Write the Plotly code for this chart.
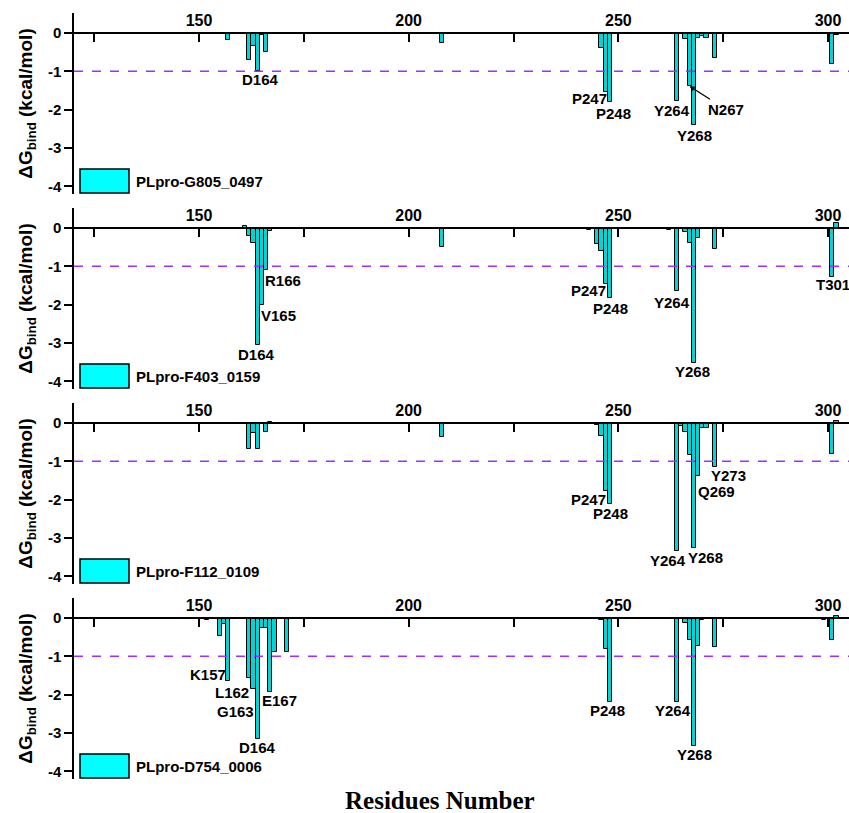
import plotly.graph_objects as go

# ---------------- data ----------------
names = ["PLpro-G805_0497", "PLpro-F403_0159", "PLpro-F112_0109", "PLpro-D754_0006"]

res1 = [157, 162, 163, 164, 165, 166, 208, 245, 246, 247, 248, 264, 266, 267, 268, 269, 270, 271, 272, 273, 301, 302]
val1 = [-0.18, -0.71, -0.35, -0.99, -0.05, -0.50, -0.26, -0.03, -0.38, -1.55, -1.79, -1.77, -0.17, -1.39, -2.39, -0.13, -0.07, -0.13, -0.04, -0.65, -0.80, -0.06]

res2 = [161, 162, 163, 164, 165, 166, 167, 168, 208, 243, 245, 246, 247, 248, 262, 264, 266, 267, 268, 269, 271, 273, 301, 302]
val2 = [0.05, -0.22, -0.39, -3.04, -2.02, -1.10, -0.09, -0.03, -0.50, -0.05, -0.41, -0.61, -1.45, -1.83, -0.05, -1.65, -0.10, -0.38, -3.51, -0.25, -0.03, -0.54, -1.28, 0.12]

res3 = [162, 163, 164, 166, 167, 208, 245, 246, 247, 248, 264, 265, 266, 267, 268, 269, 270, 271, 273, 301, 302]
val3 = [-0.69, -0.25, -0.69, -0.24, 0.03, -0.37, -0.05, -0.34, -1.77, -2.12, -3.33, -0.08, -0.24, -0.83, -3.27, -1.38, -0.12, -0.12, -1.16, -0.82, 0.05]

res4 = [152, 155, 156, 157, 162, 163, 164, 165, 166, 167, 168, 171, 208, 246, 247, 248, 264, 266, 267, 268, 269, 270, 271, 273, 299, 301, 302]
val4 = [-0.05, -0.46, -0.16, -1.65, -1.56, -1.86, -3.16, -0.26, -0.26, -1.93, -0.89, -0.89, -0.04, -0.05, -0.80, -2.19, -2.18, -0.12, -0.58, -3.35, -0.72, -0.05, -0.03, -0.76, -0.05, -0.58, 0.05]

# residue labels: (text, x, y)
labels1 = [("D164", 164.6, -1.22), ("P247", 243.1, -1.72), ("P248", 248.9, -2.10),
           ("Y264", 262.9, -2.02), ("Y268", 268.1, -2.67)]
labels2 = [("R166", 170.1, -1.36), ("V165", 169.0, -2.29), ("D164", 163.8, -3.30),
           ("P247", 242.9, -1.64), ("P248", 248.1, -2.10), ("Y264", 262.9, -1.94),
           ("Y268", 267.8, -3.75), ("T301", 301.3, -1.47)]
labels3 = [("P247", 242.9, -1.99), ("P248", 248.2, -2.37), ("Y264", 261.9, -3.58),
           ("Y268", 270.8, -3.50), ("Q269", 273.3, -1.79), ("Y273", 276.3, -1.38)]
labels4 = [("K157", 152.1, -1.48), ("L162", 157.9, -1.95), ("G163", 158.8, -2.43),
           ("E167", 169.3, -2.15), ("D164", 163.9, -3.37), ("P248", 247.5, -2.41),
           ("Y264", 263.0, -2.41), ("Y268", 268.1, -3.56)]

xticks = [150, 200, 250, 300]
xticktext = ["150", "200", "250", "300"]
yticks = [0, -1, -2, -3, -4]
yticktext = ["0", "-1", "-2", "-3", "-4"]
threshold = -1

residues = [res1, res2, res3, res4]
values = [val1, val2, val3, val4]
labels = [labels1, labels2, labels3, labels4]

# ---------------- layout geometry ----------------
W, H = 849, 813
mt, mb, ml, mr = 13, 34, 74, 0
ph = H - mt - mb
pw = W - ml - mr
xr = [120.2, 305.0]
yr = [-4.2, 0.52]
PANEL = 181

SANS = "Liberation Sans, Arial, sans-serif"
SERIF = "Liberation Serif, Times New Roman, serif"

fig = go.Figure()
layout = dict(
    width=W, height=H,
    margin=dict(l=ml, r=mr, t=mt, b=mb, autoexpand=False),
    plot_bgcolor="white", paper_bgcolor="white",
    showlegend=False, bargap=0,
)
shapes = []
annotations = []

for k in range(4):
    sfx = "" if k == 0 else str(k + 1)
    T = mt + 195 * k
    B = T + PANEL
    d1 = (H - mb - T) / ph
    d0 = (H - mb - B) / ph
    pos = d0 + (0 - yr[0]) / (yr[1] - yr[0]) * (d1 - d0)

    fig.add_trace(go.Bar(
        x=residues[k], y=values[k], width=1,
        marker=dict(color="#00D4D4", line=dict(color="black", width=1)),
        xaxis="x" + sfx, yaxis="y" + sfx, name=names[k],
    ))

    layout["xaxis" + sfx] = dict(
        domain=[0, 1], range=xr, anchor="free", position=pos, side="top",
        automargin=False,
        showline=True, linecolor="black", linewidth=2,
        ticks="inside", ticklen=8, tickwidth=1.5, tickcolor="black",
        tickvals=xticks, ticktext=xticktext,
        minor=dict(tickmode="array", tickvals=[125, 175, 225, 275],
                   ticks="inside", ticklen=8, tickwidth=1.5, tickcolor="black"),
        tickfont=dict(family=SANS, size=16, color="black", weight="bold"),
        showgrid=False, zeroline=False, fixedrange=True,
    )
    layout["yaxis" + sfx] = dict(
        domain=[d0, d1], range=yr, anchor="x" + sfx, automargin=False,
        showline=True, linecolor="black", linewidth=1.5,
        ticks="outside", ticklen=8, tickwidth=1.5, tickcolor="black",
        tickvals=yticks, ticktext=yticktext,
        tickfont=dict(family=SANS, size=15, color="black", weight="bold"),
        showgrid=False, zeroline=False,
        title=dict(text="ΔG<sub>bind</sub> (kcal/mol)", standoff=10,
                   font=dict(family=SANS, size=19, color="black", weight="bold")),
    )

    # threshold line
    shapes.append(dict(type="line", xref="x" + sfx + " domain", x0=0, x1=1,
                       yref="y" + sfx, y0=threshold, y1=threshold,
                       line=dict(color="#9B30FF", width=1.6, dash="dash")))
    # legend box (pixel offsets within the panel)
    shapes.append(dict(type="rect", xref="x" + sfx + " domain", yref="y" + sfx + " domain",
                       x0=(80 - ml) / pw, x1=(129 - ml) / pw,
                       y0=1 / PANEL, y1=25 / PANEL,
                       fillcolor="#00FFFF", line=dict(color="black", width=1.5)))
    annotations.append(dict(xref="x" + sfx + " domain", yref="y" + sfx + " domain",
                            x=(134 - ml) / pw, y=13 / PANEL,
                            xanchor="left", yanchor="middle", showarrow=False,
                            text=names[k],
                            font=dict(family=SANS, size=15, color="black", weight="bold")))
    for (t, lx, ly) in labels[k]:
        annotations.append(dict(xref="x" + sfx, yref="y" + sfx, x=lx, y=ly, text=t,
                                showarrow=False, xanchor="center", yanchor="middle",
                                font=dict(family=SANS, size=15, color="black", weight="bold")))

# N267 arrow label (panel 1)
annotations.append(dict(xref="x", yref="y", x=267, y=-1.39, text="N267",
                        showarrow=True, ax=36, ay=23, arrowhead=2, arrowsize=0.8,
                        arrowwidth=1.3, arrowcolor="black",
                        font=dict(family=SANS, size=15, color="black", weight="bold")))

# x-axis title
annotations.append(dict(xref="paper", yref="paper", x=(440 - ml) / pw, y=(H - mb - 800) / ph,
                        text="Residues Number", showarrow=False,
                        xanchor="center", yanchor="middle",
                        font=dict(family=SERIF, size=25, color="black", weight="bold")))

layout["shapes"] = shapes
layout["annotations"] = annotations
fig.update_layout(**layout)
fig.write_html("out.html", config={"displayModeBar": False},
               post_script="document.body.style.margin='0';document.body.style.padding='0';")
